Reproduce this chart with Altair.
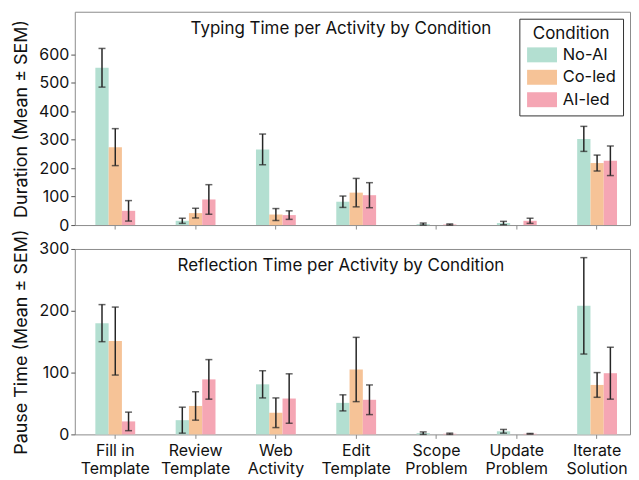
import altair as alt
import pandas as pd

activities = ["Fill in Template", "Review Template", "Web Activity", "Edit Template",
              "Scope Problem", "Update Problem", "Iterate Solution"]
conditions = ["No-AI", "Co-led", "AI-led"]
colors = ["#b3dfd1", "#f6c397", "#f5a6b4"]

# Typing time (Duration) mean and SEM per activity, per condition
typing_mean = {
    "No-AI":  [553, 15, 266, 82, 3, 7, 303],
    "Co-led": [274, 42, 37, 114, 0, 0, 218],
    "AI-led": [50, 90, 35, 105, 2, 15, 226],
}
typing_sem = {
    "No-AI":  [68, 9, 54, 20, 4, 6, 44],
    "Co-led": [65, 17, 21, 50, 0, 0, 28],
    "AI-led": [36, 52, 15, 44, 2, 9, 52],
}
# Reflection time (Pause) mean and SEM
pause_mean = {
    "No-AI":  [180, 23, 81, 51, 2, 5, 208],
    "Co-led": [151, 46, 35, 105, 0, 0, 80],
    "AI-led": [21, 89, 58, 56, 1, 1, 99],
}
pause_sem = {
    "No-AI":  [30, 21, 22, 13, 2, 3, 78],
    "Co-led": [55, 23, 24, 52, 0, 0, 20],
    "AI-led": [15, 32, 40, 24, 1, 0.5, 42],
}


def make_df(means, sems):
    rows = []
    for c in conditions:
        for a, m, s in zip(activities, means[c], sems[c]):
            rows.append({"activity": a, "condition": c, "mean": m, "sem": s,
                         "lo": max(m - s, 0), "hi": m + s})
    return pd.DataFrame(rows)


df_typing = make_df(typing_mean, typing_sem)
df_pause = make_df(pause_mean, pause_sem)

W = 557
xscale = alt.Scale(paddingInner=0.504, paddingOuter=0.209, align=0.613)
ERR = "#262626"
FONT = "Inter"


def panel(df, title_text, ytitle, domain, tick_vals, height, show_labels, show_legend):
    if show_labels:
        xaxis = alt.Axis(title=None, labelAngle=0, domain=False, grid=False, tickSize=4,
                         tickColor="#8c8c8c", labelPadding=4, labelLineHeight=18,
                         labelExpr="datum.label == 'Fill in Template' ? ['Fill in', 'Template'] : split(datum.label, ' ')")
    else:
        xaxis = alt.Axis(title=None, labels=False, domain=False, grid=False, tickSize=4,
                         tickColor="#8c8c8c")
    X = alt.X("activity:N", sort=activities, scale=xscale, axis=xaxis)
    XO = alt.XOffset("condition:N", sort=conditions,
                     scale=alt.Scale(paddingInner=0, paddingOuter=0))
    yaxis = alt.Axis(title=ytitle, values=tick_vals, grid=False, domain=False, ticks=True,
                     tickSize=4, tickColor="#555", labelPadding=2, titlePadding=8)

    def Y(field):
        return alt.Y(field, scale=alt.Scale(domain=domain, nice=False), axis=yaxis)

    if show_legend:
        legend = alt.Legend(title="Condition", orient="top-right", offset=7,
                            symbolType="M-1,-1H3V1H-1Z", symbolSize=225,
                            symbolStrokeWidth=0, symbolOpacity=1,
                            strokeColor="#333333", fillColor="white", padding=7,
                            titleAnchor="middle", titleFontSize=17, titleFontWeight="normal",
                            titleFont=FONT, titleColor="#111", labelFont=FONT,
                            labelFontSize=16.5, labelColor="#111", rowPadding=5.5,
                            labelOffset=20, titlePadding=4)
    else:
        legend = None

    base = alt.Chart(df).encode(x=X, xOffset=XO)
    bars = base.mark_bar(opacity=1).encode(
        y=Y("mean:Q"),
        color=alt.Color("condition:N", sort=conditions,
                        scale=alt.Scale(domain=conditions, range=colors), legend=legend),
    )
    errs = base.transform_filter("datum.sem > 0")
    rule = errs.mark_rule(color=ERR, strokeWidth=1.5).encode(y=Y("lo:Q"), y2="hi:Q")
    cap_lo = errs.mark_tick(color=ERR, thickness=1.5, size=7).encode(y=Y("lo:Q"))
    cap_hi = errs.mark_tick(color=ERR, thickness=1.5, size=7).encode(y=Y("hi:Q"))
    title = alt.Chart(pd.DataFrame({"t": [title_text]})).mark_text(
        font=FONT, fontSize=17, color="#111", align="center", baseline="middle"
    ).encode(text="t:N", x=alt.value(267), y=alt.value(17))
    return alt.layer(bars, rule, cap_lo, cap_hi, title).properties(width=W, height=height)


top = panel(df_typing, "Typing Time per Activity by Condition", "Duration (Mean ± SEM)",
            [0, 750], [0, 100, 200, 300, 400, 500, 600], 214, False, True)
bottom = panel(df_pause, "Reflection Time per Activity by Condition", "Pause Time (Mean ± SEM)",
               [0, 300], [0, 100, 200, 300], 186, True, False)

chart = alt.vconcat(top, bottom, spacing=24, bounds="flush").resolve_legend(
    color="independent"
).properties(
    padding={"left": 3, "top": 2, "right": 0, "bottom": 0}
).configure_view(stroke="#8c8c8c", strokeWidth=1).configure_axis(
    labelFont=FONT, labelFontSize=16, labelColor="#111",
    titleFont=FONT, titleFontSize=18, titleFontWeight="normal", titleColor="#111"
)

chart.save("out.html", embed_options={"renderer": "svg", "actions": False})
